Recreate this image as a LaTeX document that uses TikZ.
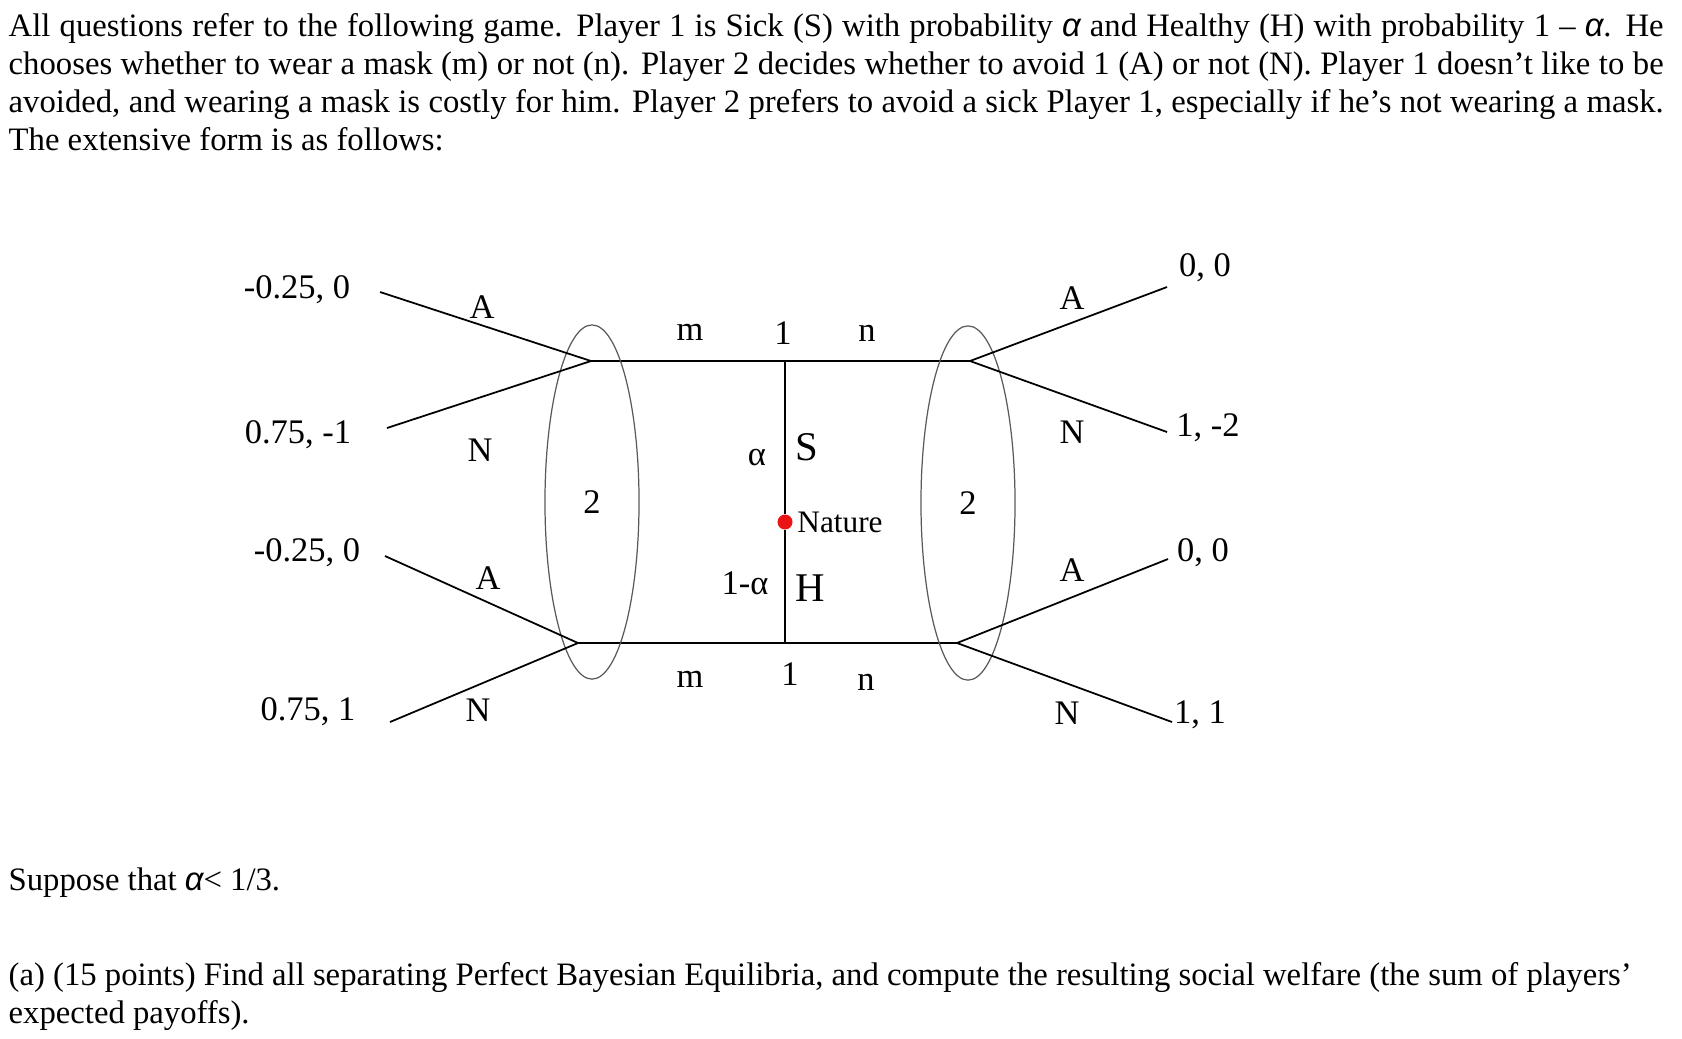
\documentclass[tikz,border=0pt]{standalone}
\usepackage{fontspec}
\setmainfont{Liberation Serif}
\setsansfont{Liberation Sans}
\usepackage{tikz}
\usetikzlibrary{positioning,shapes.geometric}
\definecolor{setgray}{RGB}{90,90,90}
\definecolor{naturered}{RGB}{235,20,20}
\newcommand{\salpha}{{\sffamily\itshape α}}

\begin{document}
\begin{tikzpicture}[x=0.01cm, y=-0.01cm,
		parfont/.style={font=\fontsize{9.3}{10.82}\selectfont},
		lbl/.style={inner sep=0, font=\fontsize{9.8}{11}\selectfont},
		payoff/.style={inner sep=0, font=\fontsize{9.8}{11}\selectfont},
		typelbl/.style={inner sep=0, font=\fontsize{11.6}{13}\selectfont},
		branch/.style={line width=0.5pt},
		infoset/.style={draw=setgray, line width=0.35pt, ellipse, inner sep=0, minimum width=0.94cm, minimum height=3.54cm, font=\fontsize{9.8}{11}\selectfont}]
				\useasboundingbox (0,0) rectangle (1682,1038);
				
				% question text
				\node[parfont, anchor=north west, inner sep=0, text width=16.54cm, align=justify] (intro) at (8,13) {All questions refer to the following game. Player 1 is Sick (S) with probability \salpha{} and Healthy (H) with probability 1 – \salpha. He\linebreak chooses whether to wear a mask (m) or not (n). Player 2 decides whether to avoid 1 (A) or not (N). Player 1 doesn’t like to be\linebreak avoided, and wearing a mask is costly for him. Player 2 prefers to avoid a sick Player 1, especially if he’s not wearing a mask.\linebreak The extensive form is as follows:};
				
				% nature and player 1
				\node[circle, fill=naturered, inner sep=0, minimum size=0.15cm] (nat) at (785,522) {};
				\node[inner sep=0, font=\fontsize{8.9}{10}\selectfont, right=1pt of nat] (natlbl) {Nature};
				\coordinate (sick) at (785,361);
				\coordinate (healthy) at (785,643);
				\draw[branch] (nat) -- (sick);
				\draw[branch] (nat) -- (healthy);
				\node[typelbl] (slbl) at (807,447) {S};
				\node[typelbl] (hlbl) at (810,588) {H};
				\node[lbl] (alpha) at (757,458) {α};
				\node[lbl] (malpha) at (745,583) {1-α};
				\node[lbl] (p1top) at (783,333) {1};
				\node[lbl] (p1bot) at (790,674) {1};
				
				% player 2 nodes
				\coordinate (tl) at (591,361);
				\coordinate (tr) at (970,361);
				\coordinate (bl) at (578,643);
				\coordinate (br) at (957,643);
				\draw[branch] (tl) -- (sick) -- (tr);
				\draw[branch] (bl) -- (healthy) -- (br);
				\node[lbl] (mtop) at (690,332) {m};
				\node[lbl] (ntop) at (867,333) {n};
				\node[lbl] (mbot) at (690,679) {m};
				\node[lbl] (nbot) at (866,682) {n};
				
				% information sets
				\node[infoset] (setm) at (592,502) {2};
				\node[infoset] (setn) at (968,503) {2};
				
				% terminal branches, left
				\coordinate (tlA) at (380,292);
				\coordinate (tlN) at (387,428);
				\coordinate (blA) at (385,556);
				\coordinate (blN) at (390,722);
				\draw[branch] (tlA) -- (tl) -- (tlN);
				\draw[branch] (blA) -- (bl) -- (blN);
				\node[payoff] (pay1) at (297,290) {-0.25, 0};
				\node[payoff] (pay2) at (298,435) {0.75, -1};
				\node[payoff] (pay3) at (307,553) {-0.25, 0};
				\node[payoff] (pay4) at (308,712) {0.75, 1};
				\node[lbl] (a1) at (482,307) {A};
				\node[lbl] (n1) at (480,450) {N};
				\node[lbl] (a2) at (488,578) {A};
				\node[lbl] (n2) at (478,710) {N};
				
				% terminal branches, right
				\coordinate (trA) at (1167,287);
				\coordinate (trN) at (1167,432);
				\coordinate (brA) at (1168,559);
				\coordinate (brN) at (1172,722);
				\draw[branch] (trA) -- (tr) -- (trN);
				\draw[branch] (brA) -- (br) -- (brN);
				\node[payoff] (pay5) at (1205,268) {0, 0};
				\node[payoff] (pay6) at (1208,428) {1, -2};
				\node[payoff] (pay7) at (1203,553) {0, 0};
				\node[payoff] (pay8) at (1200,715) {1, 1};
				\node[lbl] (a3) at (1072,298) {A};
				\node[lbl] (n3) at (1072,432) {N};
				\node[lbl] (a4) at (1072,570) {A};
				\node[lbl] (n4) at (1067,713) {N};
				
				% bottom text
				\node[parfont, anchor=north west, inner sep=0] (suppose) at (8,867) {Suppose that \salpha< 1/3.};
				\node[parfont, anchor=north west, inner sep=0, align=left] (parta) at (8,962) {(a) (15 points) Find all separating Perfect Bayesian Equilibria, and compute the resulting social welfare (the sum of players’\\ expected payoffs).};
			\end{tikzpicture}
\end{document}
